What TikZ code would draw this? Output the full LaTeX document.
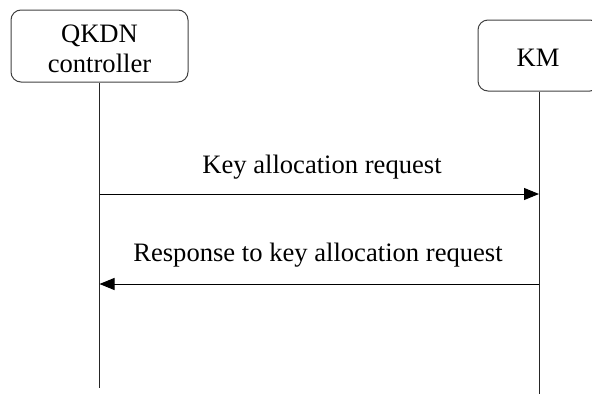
\documentclass[tikz,border=0pt]{standalone}
\usepackage{fontspec}
\setmainfont{Liberation Serif}
\usetikzlibrary{arrows.meta}
\begin{document}
\begin{tikzpicture}[x=1pt,y=-1pt,
  actor/.style={draw=black!75, line width=1pt, rounded corners=10pt, inner sep=0pt, align=center},
  lifeline/.style={draw=black!85, line width=1pt},
  msg/.style={draw=black, line width=1pt, -{Triangle[length=15pt,width=12pt]}},
  lbl/.style={font=\fontsize{26.6}{30}\selectfont, inner sep=0pt, anchor=base}
]
\useasboundingbox (0,0) rectangle (592,394);
\begin{scope}
\clip (0,0) rectangle (592,394);
\node[actor, minimum width=177pt, minimum height=72pt] (qkdn) at (99.5,46) {};
\node[actor, minimum width=122pt, minimum height=71pt] (km) at (539,55.5) {};
\end{scope}
\node[lbl] (t1) at (99.5,42) {QKDN};
\node[lbl] (t2) at (99.5,72) {controller};
\node[lbl] (t3) at (538,66) {KM};
\coordinate (qend) at (99.5,388);
\coordinate (kend) at (539,394);
\draw[lifeline] (qkdn.south) -- (qend);
\draw[lifeline] (km.south) -- (kend);
\coordinate (a1s) at (99.5,194);
\coordinate (a1e) at (539,194);
\coordinate (a2s) at (539,284);
\coordinate (a2e) at (99.5,284);
\draw[msg] (a1s) -- (a1e);
\draw[msg] (a2s) -- (a2e);
\node[lbl] (m1) at (322,173) {Key allocation request};
\node[lbl] (m2) at (318,261) {Response to key allocation request};
\end{tikzpicture}
\end{document}
